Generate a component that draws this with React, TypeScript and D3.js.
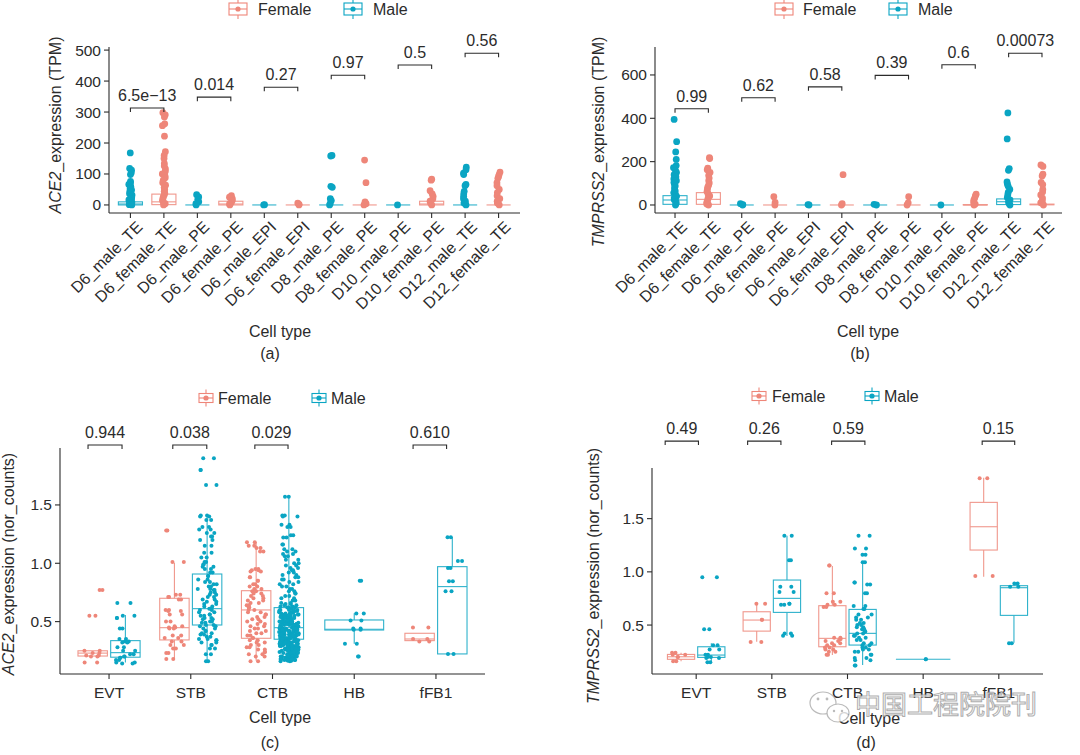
import React from 'react';
import * as d3 from 'd3';

const FEMALE = '#EE8679';
const MALE = '#0AA5C3';
const INK = '#2b2b2b';
const FONT = '"Liberation Sans", Arial, Helvetica, sans-serif';

// ---------- (a) / (b): embryo cell types ----------
const stageCategories = [
  'D6_male_TE', 'D6_female_TE', 'D6_male_PE', 'D6_female_PE', 'D6_male_EPI', 'D6_female_EPI',
  'D8_male_PE', 'D8_female_PE', 'D10_male_PE', 'D10_female_PE', 'D12_male_TE', 'D12_female_TE',
];
const stageSex = ['Male', 'Female', 'Male', 'Female', 'Male', 'Female', 'Male', 'Female', 'Male', 'Female', 'Male', 'Female'];

// ACE2 TPM
const aQ1 = [0, 1, 0, 0, 0, 0, 0, 0, 0, 0, 0, 0];
const aMedian = [3, 10, 0, 3, 0, 0, 0, 0, 0, 3, 0, 0];
const aQ3 = [10, 35, 0, 12, 0, 0, 0, 0, 0, 12, 0, 0];
const aLow = [0, 0, 0, 0, 0, 0, 0, 0, 0, 0, 0, 0];
const aHigh = [25, 85, 0, 28, 0, 0, 0, 0, 0, 28, 0, 0];
const aPoints = [
  [168, 118, 112, 104, 98, 76, 72, 66, 60, 56, 52, 48, 44, 40, 36, 32, 28, 24, 20, 16, 12, 8, 5, 3, 1, 0],
  [298, 291, 284, 262, 256, 222, 172, 160, 150, 134, 126, 116, 108, 100, 94, 88, 80, 72, 64, 56, 50, 44, 38, 32, 26, 20, 14, 8, 4, 0],
  [33, 26, 18, 10, 4, 0],
  [30, 25, 20, 14, 8, 3, 0],
  [1, 0],
  [6, 2, 0],
  [160, 158, 60, 57, 20, 14, 5, 0],
  [145, 72, 10, 4, 0],
  [0],
  [83, 80, 46, 36, 28, 20, 12, 6, 0],
  [122, 114, 103, 98, 66, 62, 44, 36, 28, 20, 12, 6, 0],
  [106, 98, 92, 86, 72, 62, 50, 40, 30, 20, 12, 6, 0],
];
const aPLabels = ['6.5e\u221213', '0.014', '0.27', '0.97', '0.5', '0.56'];
const aBracketY = [313, 348, 380, 419, 452, 490];
const aTicks = [0, 100, 200, 300, 400, 500];

// TMPRSS2 TPM
const bQ1 = [3, 3, 0, 0, 0, 0, 0, 0, 0, 0, 2, 1];
const bMedian = [23, 26, 0, 0, 0, 0, 0, 0, 0, 0, 15, 2];
const bQ3 = [43, 57, 0, 0, 0, 0, 0, 0, 0, 2, 28, 4];
const bLow = [0, 0, 0, 0, 0, 0, 0, 0, 0, 0, 0, 0];
const bHigh = [100, 135, 0, 0, 0, 0, 0, 0, 0, 4, 65, 10];
const bPoints = [
  [395, 292, 245, 210, 182, 172, 160, 150, 140, 130, 120, 112, 104, 96, 88, 80, 72, 64, 56, 48, 40, 32, 24, 16, 8, 0],
  [218, 214, 170, 162, 150, 136, 124, 112, 102, 92, 82, 72, 62, 52, 42, 32, 22, 12, 4, 0],
  [6, 2, 0],
  [38, 12, 0],
  [2, 0],
  [140, 6, 0],
  [3, 0],
  [38, 10, 0],
  [0],
  [50, 42, 32, 22, 12, 4, 0],
  [425, 305, 168, 160, 106, 96, 86, 72, 58, 46, 34, 24, 14, 6, 0],
  [185, 178, 142, 134, 104, 94, 72, 60, 46, 32, 20, 10, 0],
];
const bPLabels = ['0.99', '0.62', '0.58', '0.39', '0.6', '0.00073'];
const bBracketY = [444, 495, 545, 598, 647, 700];
const bTicks = [0, 200, 400, 600];

// ---------- (c) / (d): placenta cell types ----------
const placentaCategories = ['EVT', 'STB', 'CTB', 'HB', 'fFB1'];
const placentaBoxCat = [0, 0, 1, 1, 2, 2, 3, 4, 4];
const placentaBoxSex = ['Female', 'Male', 'Female', 'Male', 'Female', 'Male', 'Male', 'Female', 'Male'];
const normTicks = [0.5, 1.0, 1.5];

// ACE2 normalised counts
const cQ1 = [0.205, 0.195, 0.343, 0.471, 0.357, 0.349, 0.428, 0.337, 0.223];
const cMedian = [0.23, 0.234, 0.448, 0.611, 0.6, 0.448, 0.434, 0.351, 0.8];
const cQ3 = [0.25, 0.337, 0.7, 0.908, 0.765, 0.62, 0.514, 0.4, 0.971];
const cLow = [0.2, 0.15, 0.17, 0.157, 0.165, 0.157, 0.31, 0.337, 0.223];
const cHigh = [0.25, 0.557, 1.005, 1.405, 1.18, 1.57, 0.571, 0.4, 1.223];
const cPoints = [
  [0.77, 0.55, 0.25, 0.23, 0.21, 0.2, 0.15],
  [0.66, 0.55, 0.53, 0.44, 0.35, 0.33, 0.32, 0.28, 0.25, 0.22, 0.2, 0.19, 0.17, 0.15, 0.14],
  [1.28, 1.01, 0.73, 0.71, 0.69, 0.6, 0.59, 0.56, 0.5, 0.46, 0.45, 0.44, 0.38, 0.36, 0.33, 0.3, 0.27, 0.23, 0.18],
  [1.9, 1.8, 1.67, 1.41, 1.4, 1.37, 1.31, 1.29, 1.26, 1.23, 1.2, 1.15, 1.09, 1.05, 1.01, 0.99, 0.97, 0.95, 0.92,
    0.89, 0.86, 0.84, 0.82, 0.8, 0.78, 0.77, 0.75, 0.73, 0.71, 0.69, 0.67, 0.65, 0.63, 0.61, 0.6, 0.58, 0.56,
    0.55, 0.53, 0.52, 0.5, 0.49, 0.47, 0.46, 0.44, 0.42, 0.4, 0.39, 0.37, 0.35, 0.34, 0.32, 0.3, 0.27, 0.22, 0.16],
  [1.18, 1.15, 1.13, 1.1, 0.95, 0.94, 0.93, 0.88, 0.85, 0.82, 0.8, 0.78, 0.76, 0.74, 0.72, 0.7, 0.68, 0.66, 0.64,
    0.62, 0.6, 0.58, 0.56, 0.54, 0.52, 0.5, 0.48, 0.46, 0.44, 0.42, 0.4, 0.38, 0.36, 0.34, 0.32, 0.3, 0.28, 0.26,
    0.24, 0.22, 0.2, 0.16],
  [1.57, 1.41, 1.4, 1.33, 1.31, 1.24, 1.22, 1.16, 1.12, 1.1, 1.08, 1.06, 1.03, 1.0, 0.98, 0.96, 0.94, 0.92, 0.9,
    0.88, 0.86, 0.84, 0.82, 0.8, 0.78, 0.76, 0.74, 0.72, 0.7, 0.68, 0.66, 0.65, 0.64, 0.63, 0.62, 0.61, 0.6, 0.59,
    0.58, 0.58, 0.57, 0.56, 0.55, 0.55, 0.54, 0.53, 0.53, 0.52, 0.52, 0.51, 0.5, 0.5, 0.49, 0.49, 0.48, 0.48, 0.47,
    0.47, 0.46, 0.46, 0.45, 0.45, 0.44, 0.44, 0.44, 0.43, 0.43, 0.43, 0.42, 0.42, 0.41, 0.41, 0.41, 0.4, 0.4, 0.39,
    0.39, 0.38, 0.38, 0.38, 0.37, 0.37, 0.36, 0.36, 0.35, 0.35, 0.34, 0.34, 0.33, 0.33, 0.32, 0.32, 0.31, 0.31,
    0.3, 0.3, 0.29, 0.29, 0.28, 0.28, 0.27, 0.27, 0.26, 0.26, 0.25, 0.25, 0.24, 0.24, 0.23, 0.23, 0.22, 0.22, 0.21,
    0.21, 0.2, 0.2, 0.19, 0.19, 0.18, 0.18, 0.17, 0.17, 0.16,
    0.62, 0.6, 0.59, 0.57, 0.56, 0.55, 0.54, 0.53, 0.51, 0.5, 0.49, 0.48, 0.47, 0.45, 0.44, 0.43, 0.42, 0.41,
    0.39, 0.38, 0.37, 0.36, 0.35, 0.33, 0.32, 0.31, 0.3, 0.29, 0.27, 0.26, 0.25, 0.24, 0.23, 0.21, 0.2, 0.19,
    0.185, 0.175, 0.165],
  [0.85, 0.57, 0.51, 0.44, 0.43, 0.31, 0.2],
  [0.45, 0.35, 0.33],
  [1.223, 1.02, 0.96, 0.845, 0.76, 0.223],
];
const cPLabels = ['0.944', '0.038', '0.029', '0.610'];
const cBracketFrom = [-0.257, 0.78, 1.784, 3.72];
const cBracketTo = [0.159, 1.196, 2.19, 4.13];
const cBracketY = [2.014, 2.014, 2.014, 2.014];

// TMPRSS2 normalised counts
const dQ1 = [0.178, 0.196, 0.443, 0.619, 0.296, 0.312, 0.178, 1.205, 0.591];
const dMedian = [0.202, 0.218, 0.547, 0.751, 0.375, 0.422, 0.178, 1.424, 0.851];
const dQ3 = [0.224, 0.296, 0.625, 0.923, 0.682, 0.647, 0.178, 1.653, 0.87];
const dLow = [0.16, 0.146, 0.343, 0.397, 0.218, 0.124, 0.178, 0.954, 0.334];
const dHigh = [0.24, 0.33, 0.704, 1.34, 1.055, 1.095, 0.178, 1.884, 0.87];
const dPoints = [
  [0.24, 0.22, 0.2, 0.16],
  [0.95, 0.46, 0.31, 0.27, 0.22, 0.2, 0.19, 0.15],
  [0.7, 0.55, 0.34],
  [1.34, 1.11, 0.86, 0.81, 0.7, 0.69, 0.42, 0.4],
  [1.06, 0.8, 0.72, 0.69, 0.67, 0.38, 0.37, 0.35, 0.33, 0.31, 0.29, 0.27, 0.25, 0.22],
  [1.34, 1.22, 1.16, 1.09, 0.9, 0.88, 0.8, 0.68, 0.65, 0.6, 0.57, 0.55, 0.52, 0.5, 0.48, 0.46, 0.44, 0.42, 0.4,
    0.38, 0.36, 0.33, 0.31, 0.29, 0.27, 0.25, 0.22, 0.19, 0.17, 0.12],
  [0.178],
  [1.88, 0.96],
  [0.89, 0.86, 0.33],
];
const dPLabels = ['0.49', '0.26', '0.59', '0.15'];
const dBracketFrom = [-0.41, 0.68, 1.79, 3.78];
const dBracketTo = [0.03, 1.12, 2.23, 4.21];
const dBracketY = [2.229, 2.229, 2.229, 2.229];

const sexColor = (s: string) => (s === 'Female' ? FEMALE : MALE);

// deterministic jitter in [-0.5, 0.5)
const jit = (i: number, k: number) => {
  const s = Math.sin(i * 12.9898 + k * 78.233) * 43758.5453;
  return s - Math.floor(s) - 0.5;
};

interface Box {
  ci: number; sex: string; q1: number; med: number; q3: number; lo: number; hi: number; pts: number[];
}

const makeBoxes = (cats: number[], sexes: string[], q1: number[], med: number[], q3: number[],
  lo: number[], hi: number[], pts: number[][]): Box[] =>
  cats.map((ci, i) => ({ ci, sex: sexes[i], q1: q1[i], med: med[i], q3: q3[i], lo: lo[i], hi: hi[i], pts: pts[i] }));

interface PanelProps {
  left: number; right: number; top: number; bottom: number;
  yDomain: [number, number]; yTicks: number[]; yFormat: (v: number) => string;
  categories: string[]; pad: number; rotate: boolean; tickSize: number;
  boxes: Box[]; jitter: number; radius: number; copies: number; seed: number;
  bracketFrom: number[]; bracketTo: number[]; bracketY: number[]; pLabels: string[];
  gene: string; unit: string; yTitleX: number; yTitleY: number;
  xTitleX: number; xTitleY: number; tag: string; tagX: number; tagY: number;
  legendY: number; legendX: number[]; keyW: number; keyH: number;
}

function LegendKey({ x, y, w, h, color }: { x: number; y: number; w: number; h: number; color: string }) {
  return (
    <g transform={`translate(${x},${y})`} stroke={color} strokeWidth={1.1}>
      <line x1={w / 2} x2={w / 2} y1={-h / 2 - 4} y2={h / 2 + 4} />
      <rect x={0} y={-h / 2} width={w} height={h} fill="#fff" />
      <line x1={0} x2={w} y1={0} y2={0} />
      <circle cx={w / 2} cy={0} r={2.6} fill={color} stroke="none" />
    </g>
  );
}

function BoxPanel(p: PanelProps) {
  const x = d3.scalePoint<string>().domain(p.categories).range([p.left, p.right]).padding(p.pad);
  const step = x.step();
  const x0 = x(p.categories[0]) as number;
  const catX = (v: number) => x0 + v * step;
  const y = d3.scaleLinear().domain(p.yDomain).range([p.bottom, p.top]);

  const byCat = d3.group(p.boxes, (b) => b.ci);
  const dodge = 0.8;

  return (
    <g fontFamily={FONT}>
      {/* legend */}
      <LegendKey x={p.legendX[0]} y={p.legendY} w={p.keyW} h={p.keyH} color={FEMALE} />
      <text x={p.legendX[1]} y={p.legendY + 5.5} fontSize={16} fill={INK}>Female</text>
      <LegendKey x={p.legendX[2]} y={p.legendY} w={p.keyW} h={p.keyH} color={MALE} />
      <text x={p.legendX[3]} y={p.legendY + 5.5} fontSize={16} fill={INK}>Male</text>

      {/* boxes */}
      {p.boxes.map((b, bi) => {
        const group = byCat.get(b.ci) as Box[];
        const n = group.length;
        const k = group.indexOf(b);
        const cx = catX(b.ci) + (k - (n - 1) / 2) * (dodge / n) * step;
        const w = (dodge / n) * 0.9 * step;
        const col = sexColor(b.sex);
        return (
          <g key={`b${bi}`}>
            <g stroke={col} strokeWidth={1.1} fill="none" opacity={0.85}>
              <line x1={cx} x2={cx} y1={y(b.q3)} y2={y(b.hi)} />
              <line x1={cx} x2={cx} y1={y(b.q1)} y2={y(b.lo)} />
              <rect x={cx - w / 2} y={y(b.q3)} width={w} height={Math.max(0, y(b.q1) - y(b.q3))} />
              <line x1={cx - w / 2} x2={cx + w / 2} y1={y(b.med)} y2={y(b.med)} />
            </g>
            {d3.range(p.copies).map((c) =>
              b.pts.map((v, i) => (
                <circle
                  key={`p${bi}-${c}-${i}`}
                  cx={cx + jit(i + bi * 101 + p.seed, c * 7 + 1) * 2 * p.jitter * step}
                  cy={y(v)}
                  r={p.radius}
                  fill={col}
                />
              ))
            )}
          </g>
        );
      })}

      {/* axes */}
      <g stroke={INK} strokeWidth={1.1}>
        <line x1={p.left} x2={p.left} y1={p.top} y2={p.bottom} />
        <line x1={p.left} x2={p.right} y1={p.bottom} y2={p.bottom} />
        {p.yTicks.map((t) => (
          <line key={`yt${t}`} x1={p.left - 5} x2={p.left} y1={y(t)} y2={y(t)} />
        ))}
        {p.categories.map((c) => (
          <line key={`xt${c}`} x1={x(c)} x2={x(c)} y1={p.bottom} y2={p.bottom + 5} />
        ))}
      </g>
      {p.yTicks.map((t) => (
        <text key={`yl${t}`} x={p.left - 8} y={y(t) + 5.5} textAnchor="end" fontSize={15.5} fill={INK}>
          {p.yFormat(t)}
        </text>
      ))}
      {p.categories.map((c) =>
        p.rotate ? (
          <text
            key={`xl${c}`}
            transform={`translate(${(x(c) as number) + 5},${p.bottom + 7}) rotate(-45)`}
            textAnchor="end"
            dy="0.71em"
            fontSize={p.tickSize}
            fill={INK}
          >
            {c}
          </text>
        ) : (
          <text key={`xl${c}`} x={x(c)} y={p.bottom + 24} textAnchor="middle" fontSize={p.tickSize} fill={INK}>
            {c}
          </text>
        )
      )}

      {/* significance brackets */}
      {p.pLabels.map((lab, i) => {
        const xa = catX(p.bracketFrom[i]);
        const xb = catX(p.bracketTo[i]);
        const yy = y(p.bracketY[i]);
        return (
          <g key={`s${i}`}>
            <path d={`M${xa},${yy + 4}V${yy}H${xb}V${yy + 4}`} fill="none" stroke={INK} strokeWidth={1.1} />
            <text x={(xa + xb) / 2} y={yy - 7} textAnchor="middle" fontSize={16} fill={INK}>{lab}</text>
          </g>
        );
      })}

      {/* titles */}
      <text transform={`translate(${p.yTitleX},${p.yTitleY}) rotate(-90)`} textAnchor="middle" fontSize={16} fill={INK}>
        <tspan fontStyle="italic">{p.gene}</tspan>
        <tspan>{`_expression ${p.unit}`}</tspan>
      </text>
      <text x={p.xTitleX} y={p.xTitleY} textAnchor="middle" fontSize={16} fill={INK}>Cell type</text>
      <text x={p.tagX} y={p.tagY} textAnchor="middle" fontSize={16} fill={INK}>{p.tag}</text>
    </g>
  );
}

const stageIdx = stageCategories.map((_, i) => i);
const pairFrom = [0, 2, 4, 6, 8, 10];
const pairTo = [1, 3, 5, 7, 9, 11];

export default function App() {
  const boxesA = makeBoxes(stageIdx, stageSex, aQ1, aMedian, aQ3, aLow, aHigh, aPoints);
  const boxesB = makeBoxes(stageIdx, stageSex, bQ1, bMedian, bQ3, bLow, bHigh, bPoints);
  const boxesC = makeBoxes(placentaBoxCat, placentaBoxSex, cQ1, cMedian, cQ3, cLow, cHigh, cPoints);
  const boxesD = makeBoxes(placentaBoxCat, placentaBoxSex, dQ1, dMedian, dQ3, dLow, dHigh, dPoints);
  const fmtInt = (v: number) => String(v);
  const fmt1 = (v: number) => v.toFixed(1);

  return (
    <svg width={1080} height={755} style={{ position: 'absolute', left: 0, top: 0, background: '#fff' }}>
      <rect width={1080} height={755} fill="#fff" />
      <BoxPanel
        left={109} right={520} top={47} bottom={213}
        yDomain={[-26, 510]} yTicks={aTicks} yFormat={fmtInt}
        categories={stageCategories} pad={0.64} rotate={true} tickSize={16}
        boxes={boxesA} jitter={0.05} radius={3.4} copies={1} seed={3}
        bracketFrom={pairFrom} bracketTo={pairTo} bracketY={aBracketY} pLabels={aPLabels}
        gene="ACE2" unit="(TPM)" yTitleX={61} yTitleY={125}
        xTitleX={280} xTitleY={337} tag="(a)" tagX={270} tagY={359}
        legendY={9} legendX={[229, 258, 344, 373]} keyW={18} keyH={12}
      />
      <BoxPanel
        left={655} right={1062} top={47} bottom={213}
        yDomain={[-37, 729]} yTicks={bTicks} yFormat={fmtInt}
        categories={stageCategories} pad={0.6} rotate={true} tickSize={16}
        boxes={boxesB} jitter={0.05} radius={3.4} copies={1} seed={17}
        bracketFrom={pairFrom} bracketTo={pairTo} bracketY={bBracketY} pLabels={bPLabels}
        gene="TMPRSS2" unit="(TPM)" yTitleX={604} yTitleY={142}
        xTitleX={868} xTitleY={337} tag="(b)" tagX={860} tagY={359}
        legendY={9} legendX={[775, 803, 889, 918]} keyW={18} keyH={12}
      />
      <BoxPanel
        left={60} right={485} top={448} bottom={674}
        yDomain={[0.051, 1.988]} yTicks={normTicks} yFormat={fmt1}
        categories={placentaCategories} pad={0.6} rotate={false} tickSize={15.5}
        boxes={boxesC} jitter={0.12} radius={2} copies={2} seed={41}
        bracketFrom={cBracketFrom} bracketTo={cBracketTo} bracketY={cBracketY} pLabels={cPLabels}
        gene="ACE2" unit="(nor_counts)" yTitleX={14} yTitleY={564}
        xTitleX={280} xTitleY={723} tag="(c)" tagX={270} tagY={748}
        legendY={398} legendX={[199, 218, 312, 331]} keyW={14} keyH={9}
      />
      <BoxPanel
        left={652} right={1043} top={468} bottom={674}
        yDomain={[0.04, 1.976]} yTicks={normTicks} yFormat={fmt1}
        categories={placentaCategories} pad={0.584} rotate={false} tickSize={15.5}
        boxes={boxesD} jitter={0.12} radius={2} copies={2} seed={73}
        bracketFrom={dBracketFrom} bracketTo={dBracketTo} bracketY={dBracketY} pLabels={dPLabels}
        gene="TMPRSS2" unit="(nor_counts)" yTitleX={599} yTitleY={576}
        xTitleX={869} xTitleY={724} tag="(d)" tagX={866} tagY={748}
        legendY={396} legendX={[752, 772, 865, 884]} keyW={14} keyH={9}
      />

      {/* watermark */}
      <g opacity={0.8}>
        <ellipse cx={823} cy={703} rx={13} ry={11} fill="#fff" stroke="#aaa" strokeWidth={1.2} />
        <ellipse cx={838} cy={713} rx={11} ry={9} fill="#fff" stroke="#aaa" strokeWidth={1.2} />
        <circle cx={818} cy={699} r={1.4} fill="#aaa" />
        <circle cx={827} cy={699} r={1.4} fill="#aaa" />
        <circle cx={834} cy={711} r={1.2} fill="#aaa" />
        <circle cx={842} cy={711} r={1.2} fill="#aaa" />
        <text x={855} y={714} fontSize={26} fontFamily='"Noto Sans CJK SC", sans-serif' fill="#fff" stroke="#9a9a9a" strokeWidth={1}>
          中国工程院院刊
        </text>
      </g>
    </svg>
  );
}
